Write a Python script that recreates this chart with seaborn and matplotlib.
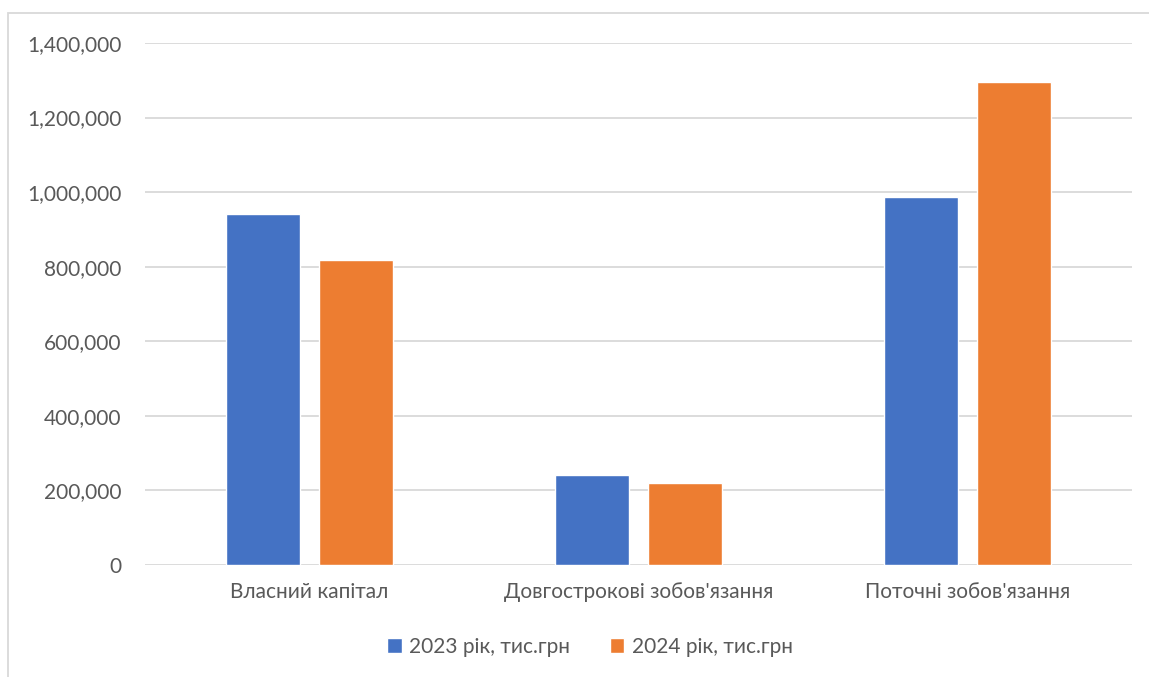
import pandas as pd
import matplotlib.pyplot as plt
import matplotlib.ticker as mticker
from matplotlib.patches import Rectangle
import seaborn as sns

categories = ["Власний капітал", "Довгострокові зобов'язання", "Поточні зобов'язання"]
series = ["2023 рік, тис.грн", "2024 рік, тис.грн"]
values_2023 = [941000, 242000, 986000]
values_2024 = [817000, 219000, 1296000]

rows = []
for cat, v23, v24 in zip(categories, values_2023, values_2024):
    rows.append({"category": cat, "series": series[0], "value": v23})
    rows.append({"category": cat, "series": series[1], "value": v24})
df = pd.DataFrame(rows)

sns.set_style("white")
plt.rcParams["font.family"] = ["Lato", "DejaVu Sans"]
text_color = "#595959"

fig = plt.figure(figsize=(11.49, 6.77), dpi=100)
ax = fig.add_axes([145 / 1149, 1 - 565 / 677, (1132 - 145) / 1149, (565 - 43) / 677])

sns.barplot(
    data=df, x="category", y="value", hue="series",
    palette=["#4472C4", "#ED7D31"], width=0.567, gap=0.21,
    saturation=1, ax=ax, zorder=3,
)

ax.set_ylim(0, 1400000)
ax.set_yticks(range(0, 1400001, 200000))
ax.yaxis.set_major_formatter(mticker.FuncFormatter(lambda v, p: f"{int(v):,}"))
ax.grid(axis="y", color="#D9D9D9", linewidth=1.3, zorder=0)
ax.set_xlabel("")
ax.set_ylabel("")
for s in ax.spines.values():
    s.set_visible(False)
ax.tick_params(axis="both", length=0, labelsize=15, colors=text_color)
ax.tick_params(axis="y", pad=17)
ax.tick_params(axis="x", pad=12)

handles, labels = ax.get_legend_handles_labels()
ax.legend_.remove()
fig.legend(
    handles, labels, loc="center", bbox_to_anchor=(590 / 1149, 1 - 647 / 677),
    ncol=2, frameon=False, fontsize=15, labelcolor=text_color,
    handlelength=0.7, handleheight=0.7, handletextpad=0.35, columnspacing=1.9,
)

# chart area border
fig.patches.append(Rectangle(
    (8 / 1149, -0.1), 1.2, (1 - 13 / 677) + 0.1,
    transform=fig.transFigure, fill=False, edgecolor="#D9D9D9", linewidth=1.3,
))

fig.savefig("out.png", dpi=100)
